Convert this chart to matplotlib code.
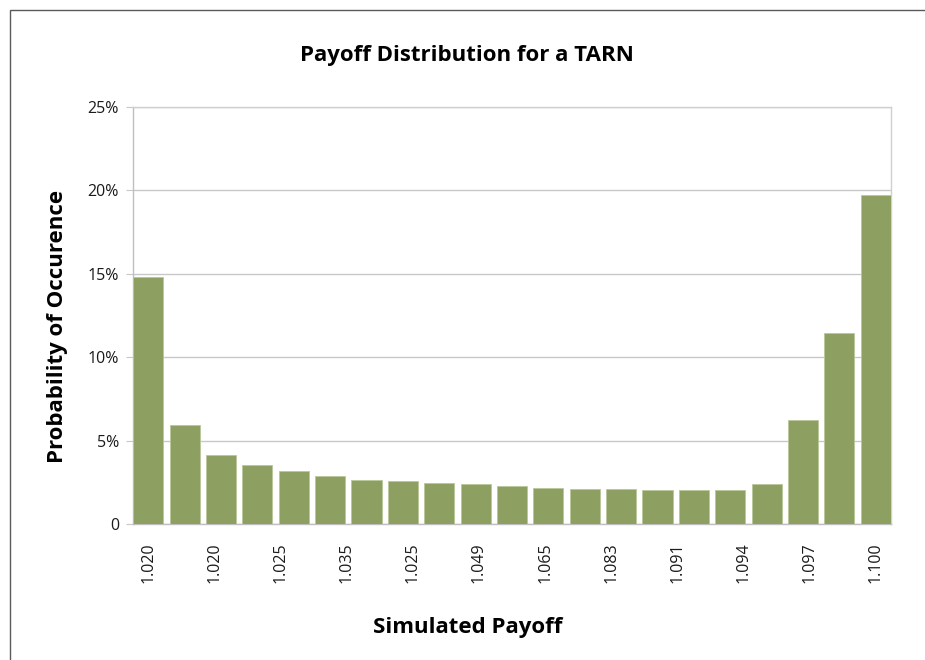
import numpy as np
import matplotlib
matplotlib.use('Agg')
import matplotlib.pyplot as plt
from matplotlib.patches import Rectangle
from matplotlib.ticker import FuncFormatter

TITLE = 'Payoff Distribution for a TARN'
X_LABEL = 'Simulated Payoff'
Y_LABEL = 'Probability of Occurence'

# probability of each payoff bucket, in percent
probabilities = [14.81, 5.96, 4.14, 3.52, 3.16, 2.86, 2.64, 2.56, 2.44, 2.38, 2.28,
                 2.18, 2.12, 2.12, 2.06, 2.06, 2.02, 2.42, 6.26, 11.48, 19.73]

# category labels as shown along the axis
payoff_labels = ['1.020', '1.020', '1.025', '1.035', '1.025', '1.049',
                 '1.065', '1.083', '1.091', '1.094', '1.097', '1.100']

y_ticks = [0, 5, 10, 15, 20, 25]

BAR_COLOR = '#8EA061'
GRID_COLOR = '#C8C8C8'
FONT = ['Open Sans', 'DejaVu Sans']


def main():
    plt.rcParams['font.family'] = FONT

    fig = plt.figure(figsize=(9.25, 6.6), dpi=100)
    ax = fig.add_axes([133 / 925, 1 - 524 / 660, 758 / 925, 417 / 660])

    # outer chart border (runs off the right and bottom edges)
    fig.patches.append(Rectangle((10 / 925, -0.05), 1.0, 1 - 10 / 660 + 0.05,
                                 transform=fig.transFigure, fill=False,
                                 edgecolor='#5A5A5A', linewidth=1.0))

    x = np.arange(len(probabilities))
    ax.bar(x, probabilities, width=0.83, color=BAR_COLOR,
           edgecolor='#B9C79A', linewidth=0.6, zorder=3)

    ax.set_xlim(-0.42, len(probabilities) - 1 + 0.42)
    ax.set_ylim(0, 25)

    ax.set_yticks(y_ticks)
    ax.yaxis.set_major_formatter(FuncFormatter(lambda v, p: '0' if v == 0 else '%d%%' % v))
    ax.yaxis.grid(True, color=GRID_COLOR, linewidth=1.0, zorder=0)

    label_pos = np.linspace(0, len(probabilities) - 1, len(payoff_labels))
    ax.set_xticks(label_pos)
    ax.set_xticklabels(payoff_labels, rotation=90)

    ax.tick_params(axis='y', length=5, color=GRID_COLOR, labelsize=11.5,
                   labelcolor='#1A1A1A', pad=5)
    ax.tick_params(axis='x', length=0, labelsize=11.5, labelcolor='#1A1A1A', pad=13)

    for side in ['top', 'right', 'left', 'bottom']:
        ax.spines[side].set_color('#D0D0D0')
        ax.spines[side].set_linewidth(1.0)
    ax.spines['left'].set_color('#BFBFBF')
    ax.spines['bottom'].set_color('#BFBFBF')

    fig.text(467 / 925, 1 - 56 / 660, TITLE, ha='center', va='center',
             fontsize=16, fontweight='bold', color='#000000')
    fig.text(468 / 925, 1 - 627 / 660, X_LABEL, ha='center', va='center',
             fontsize=16, fontweight='bold', color='#000000')
    fig.text(57 / 925, 1 - 326 / 660, Y_LABEL, ha='center', va='center',
             rotation=90, fontsize=16, fontweight='bold', color='#000000')

    fig.savefig('out.png', dpi=100)


if __name__ == '__main__':
    main()
